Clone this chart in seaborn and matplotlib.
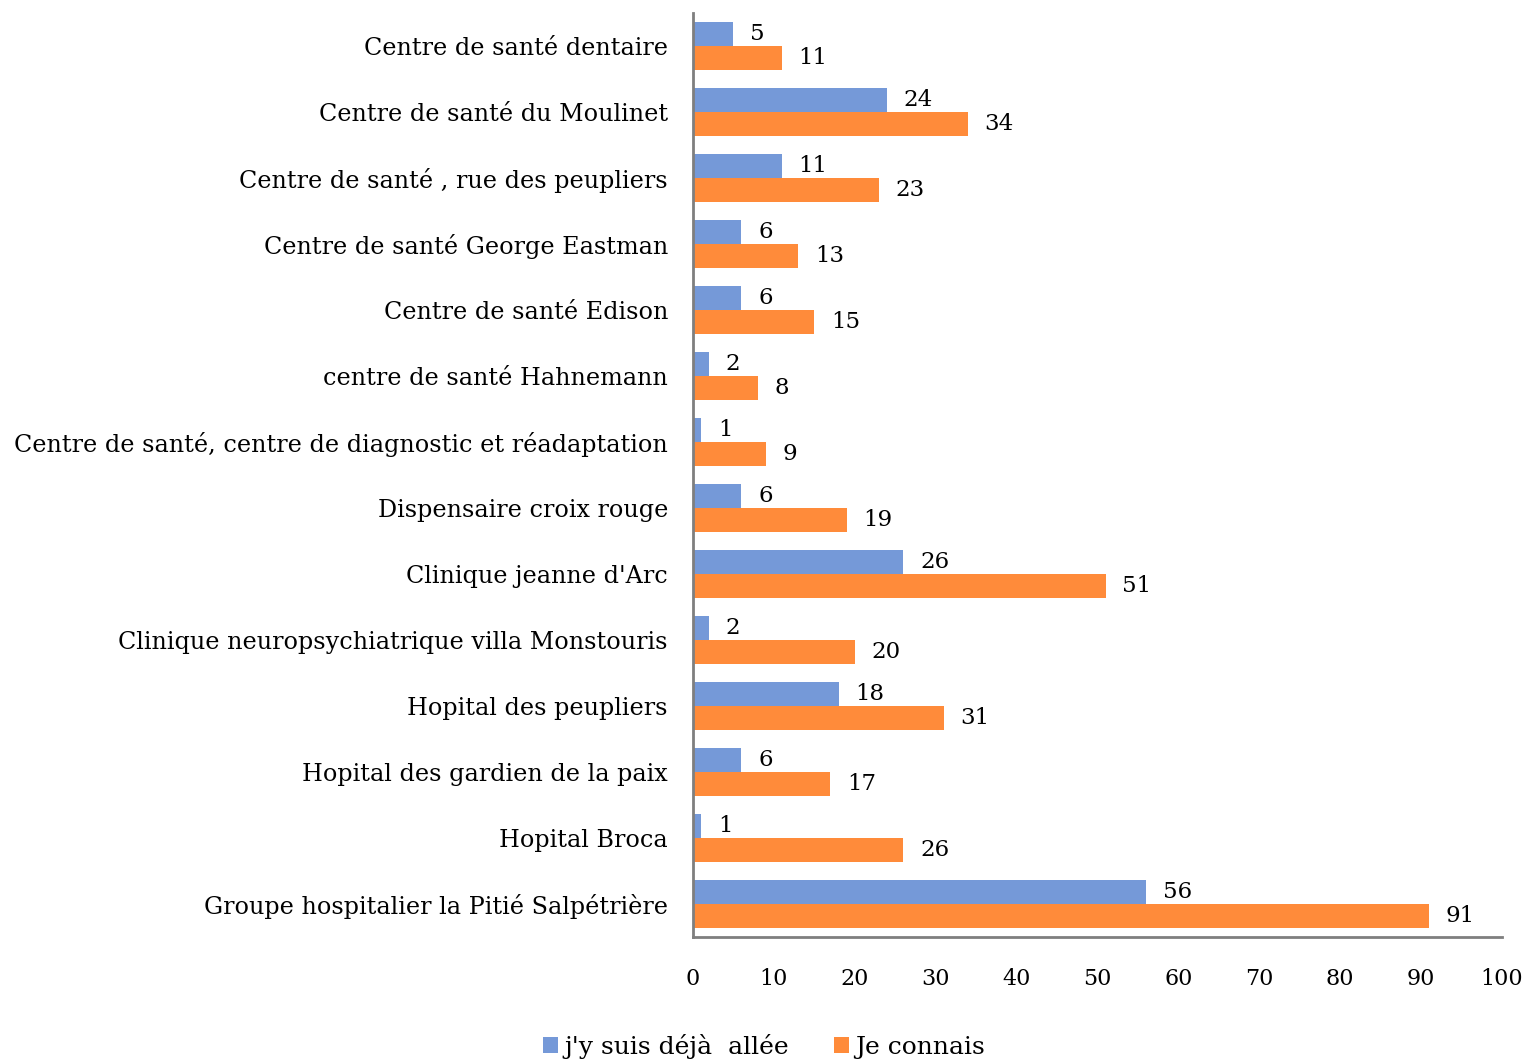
import pandas as pd
import matplotlib.pyplot as plt
import seaborn as sns

# data
etablissements = [
    "Centre de santé dentaire",
    "Centre de santé du Moulinet",
    "Centre de santé , rue des peupliers",
    "Centre de santé George Eastman",
    "Centre de santé Edison",
    "centre de santé Hahnemann",
    "Centre de santé, centre de diagnostic et réadaptation",
    "Dispensaire croix rouge",
    "Clinique jeanne d'Arc",
    "Clinique neuropsychiatrique villa Monstouris",
    "Hopital des peupliers",
    "Hopital des gardien de la paix",
    "Hopital Broca",
    "Groupe hospitalier la Pitié Salpétrière",
]
deja_allee = [5, 24, 11, 6, 6, 2, 1, 6, 26, 2, 18, 6, 1, 56]
je_connais = [11, 34, 23, 13, 15, 8, 9, 19, 51, 20, 31, 17, 26, 91]
series = ["j'y suis déjà  allée", "Je connais"]

data = pd.DataFrame({
    "etab": etablissements * 2,
    "valeur": deja_allee + je_connais,
    "serie": [series[0]] * len(etablissements) + [series[1]] * len(etablissements),
})

sns.set_style("white")
plt.rcParams['font.family'] = ['DejaVu Serif']
plt.rcParams['text.color'] = 'black'
plt.rcParams['xtick.color'] = 'black'
plt.rcParams['ytick.color'] = 'black'

fig = plt.figure(figsize=(15.28, 10.61), dpi=100)
ax = fig.add_axes([0.4535, 0.1169, 0.5295, 0.8708])

sns.barplot(
    data=data, x="valeur", y="etab", hue="serie",
    palette=["#7599D8", "#FF8B3A"], width=0.727, gap=0,
    orient="h", ax=ax, saturation=1, linewidth=0,
)

for cont in ax.containers:
    ax.bar_label(cont, padding=12, fontsize=16.5, color="black")

ax.set_xlim(0, 100)
ax.set_xticks(range(0, 101, 10))
ax.set_xlabel("")
ax.set_ylabel("")
ax.tick_params(axis="x", labelsize=16, pad=22, length=0)
ax.tick_params(axis="y", labelsize=17.2, pad=18, length=0)
for lab in ax.get_yticklabels():
    lab.set_y(lab.get_position()[1])
    lab.set_va("center_baseline")

for side in ["top", "right"]:
    ax.spines[side].set_visible(False)
for side in ["left", "bottom"]:
    ax.spines[side].set_color("#7f7f7f")
    ax.spines[side].set_linewidth(2)

ax.legend(
    loc="lower center", ncol=2, frameon=False, fontsize=18,
    handlelength=0.6, handleheight=0.6, handletextpad=0.25, columnspacing=1.8,
)
ax.legend_.set_bbox_to_anchor((0.5, -0.019), transform=fig.transFigure)

fig.savefig("out.png", dpi=100)
